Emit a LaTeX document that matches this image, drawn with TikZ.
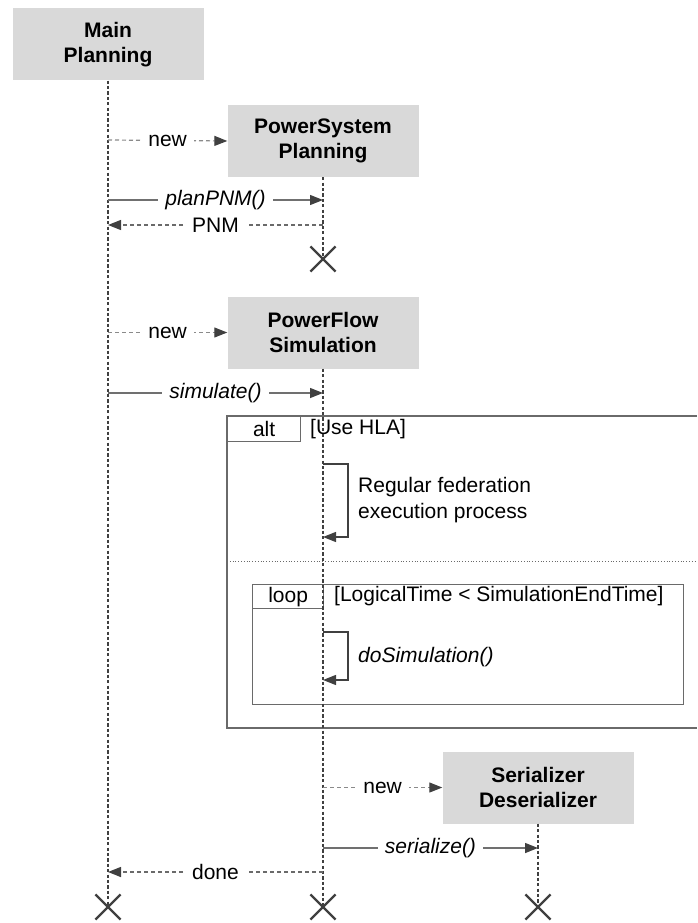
\documentclass[tikz,border=0pt]{standalone}
\usepackage{fontspec}
\setmainfont{Liberation Sans}
\usetikzlibrary{arrows.meta,shapes.misc}
\definecolor{boxgray}{HTML}{D9D9D9}
\definecolor{lifegray}{HTML}{404040}
\definecolor{msggray}{HTML}{707070}
\definecolor{newgray}{HTML}{8A8A8A}
\definecolor{framegray}{HTML}{6A6A6A}
\begin{document}
\begin{tikzpicture}[x=1pt,y=-1pt,
  font=\fontsize{21}{25}\selectfont,
  actor/.style={fill=boxgray, minimum width=191pt, minimum height=72pt,
    align=center, inner sep=0pt, font=\fontsize{21}{25}\selectfont\bfseries},
  lifeline/.style={draw=lifegray, line width=2.8pt, dash pattern=on 3.2pt off 2.2pt},
  tip/.style={-{Triangle[length=13pt,width=10pt,color=lifegray]}},
  callmsg/.style={draw=msggray, line width=1.4pt, tip},
  retmsg/.style={draw=framegray, line width=1.4pt, dash pattern=on 4pt off 3pt, tip},
  newmsg/.style={draw=newgray, line width=1.2pt, dash pattern=on 4pt off 3pt, tip},
  msglabel/.style={fill=white, inner xsep=7pt, inner ysep=1pt},
  killmark/.style={cross out, draw=lifegray, line width=2.2pt, minimum size=23pt, inner sep=0pt},
  frameline/.style={draw=framegray, line width=1.3pt},
  selfmsg/.style={draw=lifegray, line width=1.3pt, tip}
]
\useasboundingbox (0,0) rectangle (697,923);

% participants
\node[actor] (mp)  at (108,44.5) {Main\\Planning};
\node[actor] (psp) at (323,141)  {PowerSystem\\Planning};
\node[actor] (pfs) at (323,332.5) {PowerFlow\\Simulation};
\node[actor] (sd)  at (538,787.5) {Serializer\\Deserializer};

% destruction marks
\node[killmark] (xmp)  at (108,907) {};
\node[killmark] (xpsp) at (323,259) {};
\node[killmark] (xpfs) at (323,907) {};
\node[killmark] (xsd)  at (538,907) {};

% combined fragments
\draw[frameline] (697,416) -- (227,416) -- (227,728) -- (697,728);
\node[frameline, draw, minimum width=73pt, minimum height=25pt, inner sep=0pt, anchor=north west] (alttab) at (227,416) {alt};
\node[anchor=west, inner sep=0pt] (altguard) at (310,429) {[Use HLA]};
\draw[draw=framegray, line width=0.8pt, dotted] (227,561) -- (697,561);
\node[frameline, draw, minimum width=431pt, minimum height=120pt, inner sep=0pt, anchor=north west] (loopbox) at (252,584) {};
\node[frameline, draw, minimum width=71pt, minimum height=24pt, inner sep=0pt, anchor=north west] (looptab) at (252,584) {loop};
\node[anchor=west, inner sep=0pt] (loopguard) at (334,596) {[LogicalTime < SimulationEndTime]};

% lifelines
\draw[lifeline] (mp.south) -- (xmp.center);
\draw[lifeline] (psp.south) -- (xpsp.center);
\draw[lifeline] (pfs.south) -- (xpfs.center);
\draw[lifeline] (sd.south) -- (xsd.center);

% message anchor points on the lifelines
\coordinate (a1) at (108,140);
\coordinate (a2) at (108,200);
\coordinate (b2) at (323,200);
\coordinate (a3) at (108,225);
\coordinate (b3) at (323,225);
\coordinate (a4) at (108,332.5);
\coordinate (a5) at (108,393);
\coordinate (b5) at (323,393);
\coordinate (s1a) at (323,464);
\coordinate (s1b) at (323,537);
\coordinate (s2a) at (323,632);
\coordinate (s2b) at (323,680);
\coordinate (b6) at (323,787.5);
\coordinate (b7) at (323,848);
\coordinate (c7) at (538,848);
\coordinate (b8) at (323,872);
\coordinate (a8) at (108,872);

% messages
\draw[newmsg] (a1) -- node[msglabel] {new} (psp.west);
\draw[callmsg] (a2) -- node[msglabel] {\itshape planPNM()} (b2);
\draw[retmsg] (b3) -- node[msglabel] {PNM} (a3);
\draw[newmsg] (a4) -- node[msglabel] {new} (pfs.west);
\draw[callmsg] (a5) -- node[msglabel] {\itshape simulate()} (b5);

\draw[selfmsg] (s1a) -- ++(25,0) |- (s1b);
\node[anchor=west, align=left, inner sep=0pt, font=\fontsize{21}{26}\selectfont] (regtext) at (358,500) {Regular federation\\execution process};
\draw[selfmsg] (s2a) -- ++(25,0) |- (s2b);
\node[anchor=west, inner sep=0pt] (dosim) at (358,657) {\itshape doSimulation()};

\draw[newmsg] (b6) -- node[msglabel] {new} (sd.west);
\draw[callmsg] (b7) -- node[msglabel] {\itshape serialize()} (c7);
\draw[retmsg] (b8) -- node[msglabel] {done} (a8);
\end{tikzpicture}
\end{document}
